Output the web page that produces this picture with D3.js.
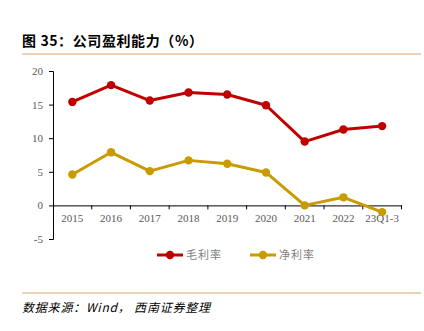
<!DOCTYPE html>
<html><head><meta charset="utf-8">
<script src="https://cdn.jsdelivr.net/npm/d3@7"></script>
<style>body{margin:0;background:#fff}svg{display:block}</style>
</head><body>
<script>
const categories = ["2015","2016","2017","2018","2019","2020","2021","2022","23Q1-3"];
const grossMargin = [15.4,17.9,15.6,16.8,16.5,14.9,9.5,11.3,11.8];
const netMargin = [4.6,7.9,5.1,6.7,6.2,4.9,0.0,1.2,-1.0];
const yTicks = [-5,0,5,10,15,20];
const seriesNames = ["毛利率","净利率"];
const colors = ["#C00000","#C99B00"];

const W=424,H=331;
const svg=d3.select("body").append("svg").attr("width",W).attr("height",H);

svg.append("text").attr("x",22).attr("y",46)
  .attr("font-family","'Noto Sans CJK SC', sans-serif").attr("font-weight","bold")
  .attr("font-size",14).attr("fill","#000").attr("letter-spacing",0.6)
  .text("图 35：公司盈利能力（%）");
svg.append("line").attr("x1",22).attr("x2",421).attr("y1",54).attr("y2",54)
  .attr("stroke","#D9A46A").attr("stroke-width",1.2);
svg.append("line").attr("x1",22).attr("x2",421).attr("y1",293).attr("y2",293)
  .attr("stroke","#D9A46A").attr("stroke-width",1.2);
svg.append("text").attr("x",22).attr("y",312)
  .attr("font-family","'Noto Sans CJK SC', sans-serif").attr("font-style","italic")
  .attr("font-size",12).attr("fill","#000").attr("letter-spacing",0.8)
  .text("数据来源：Wind， 西南证券整理");

const x=d3.scaleBand().domain(categories).range([53,401.5]);
const y=d3.scaleLinear().domain([-5,20]).range([239,71]);

const yAxis=svg.append("g").attr("transform","translate(53,0)")
  .call(d3.axisLeft(y).tickValues(yTicks).tickFormat(d=>String(d)).tickSize(4).tickPadding(6));
yAxis.select(".domain").attr("stroke","#000");
yAxis.selectAll(".tick line").attr("stroke","#000");
yAxis.selectAll("text").attr("font-family","'Liberation Serif', serif").attr("font-size",11).attr("fill","#595959");

const xAxis=svg.append("g").attr("transform",`translate(0,${y(0)})`)
  .call(d3.axisBottom(x).tickSize(0).tickPadding(9).tickSizeOuter(0));
xAxis.select(".domain").attr("stroke","#000");
xAxis.selectAll("text").attr("font-family","'Liberation Serif', serif").attr("font-size",11).attr("fill","#595959");
// boundary tick marks
svg.append("g").selectAll("line").data(categories).join("line")
  .attr("x1",d=>x(d)+x.bandwidth()).attr("x2",d=>x(d)+x.bandwidth())
  .attr("y1",y(0)).attr("y2",y(0)+4).attr("stroke","#000");

const series=[grossMargin,netMargin];
series.forEach((vals,i)=>{
  const line=d3.line().x((d,j)=>x(categories[j])+x.bandwidth()/2).y(d=>y(d));
  svg.append("path").datum(vals).attr("d",line).attr("fill","none")
    .attr("stroke",colors[i]).attr("stroke-width",3).attr("stroke-linejoin","round");
  svg.append("g").selectAll("circle").data(vals).join("circle")
    .attr("cx",(d,j)=>x(categories[j])+x.bandwidth()/2).attr("cy",d=>y(d))
    .attr("r",4.2).attr("fill",colors[i]);
});

// legend
const lg=[{x:157},{x:250}];
seriesNames.forEach((n,i)=>{
  const g=svg.append("g").attr("transform",`translate(${lg[i].x},255)`);
  g.append("line").attr("x1",0).attr("x2",26).attr("y1",0).attr("y2",0)
    .attr("stroke",colors[i]).attr("stroke-width",3);
  g.append("circle").attr("cx",13).attr("cy",0).attr("r",4.2).attr("fill",colors[i]);
  g.append("text").attr("x",29).attr("y",4).attr("font-family","'Noto Sans CJK SC', sans-serif")
    .attr("font-size",11).attr("fill","#7f7f7f").attr("letter-spacing",1).text(n);
});
</script>
</body></html>
